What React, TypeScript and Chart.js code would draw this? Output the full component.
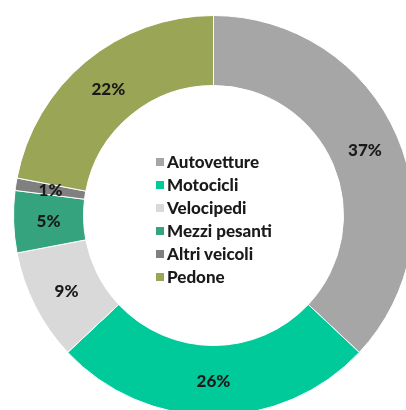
import React, { useEffect, useRef } from "react";
import { Chart, registerables } from "chart.js";

Chart.register(...registerables);

const categories = ["Autovetture", "Motocicli", "Velocipedi", "Mezzi pesanti", "Altri veicoli", "Pedone"];
const values = [37, 26, 9, 5, 1, 22];
const colors = ["#a6a6a6", "#00c99a", "#d9d9d9", "#36a37f", "#808080", "#9ba556"];

const labelPlugin = {
  id: "pctLabels",
  afterDatasetsDraw(chart: any) {
    const ctx = chart.ctx;
    const meta = chart.getDatasetMeta(0);
    ctx.save();
    ctx.font = "900 17px Lato";
    ctx.fillStyle = "#1a1a1a";
    ctx.textAlign = "center";
    ctx.textBaseline = "middle";
    meta.data.forEach((arc: any, i: number) => {
      const p = arc.tooltipPosition();
      ctx.fillText(values[i] + "%", p.x, p.y + 1);
    });
    ctx.restore();
  },
};

export default function App() {
  const ref = useRef<HTMLCanvasElement>(null);
  useEffect(() => {
    document.body.style.overflow = "hidden";
    const chart = new Chart(ref.current as HTMLCanvasElement, {
      type: "doughnut",
      data: {
        labels: categories,
        datasets: [
          {
            data: values,
            backgroundColor: colors,
            borderColor: "#ffffff",
            borderWidth: 1,
          },
        ],
      },
      options: {
        animation: false,
        responsive: false,
        cutout: "65%",
        layout: { padding: 0 },
        plugins: { legend: { display: false }, tooltip: { enabled: false } },
      },
      plugins: [labelPlugin],
    });
    return () => chart.destroy();
  }, []);

  return (
    <div style={{ position: "fixed", left: 0, top: 0, width: 406, height: 410, overflow: "hidden", background: "#fff" }}>
      <canvas ref={ref} width={401} height={401} style={{ position: "absolute", left: 13, top: 15, width: 401, height: 401 }} />
      <div style={{ position: "absolute", left: 156, top: 149.5, fontFamily: "Lato", fontWeight: 900, fontSize: 17, color: "#1a1a1a" }}>
        {categories.map((c, i) => (
          <div key={c} style={{ display: "flex", alignItems: "center", height: 23 }}>
            <span style={{ display: "inline-block", width: 8, height: 8, background: colors[i], marginRight: 3, marginTop: 2 }} />
            <span>{c}</span>
          </div>
        ))}
      </div>
    </div>
  );
}
